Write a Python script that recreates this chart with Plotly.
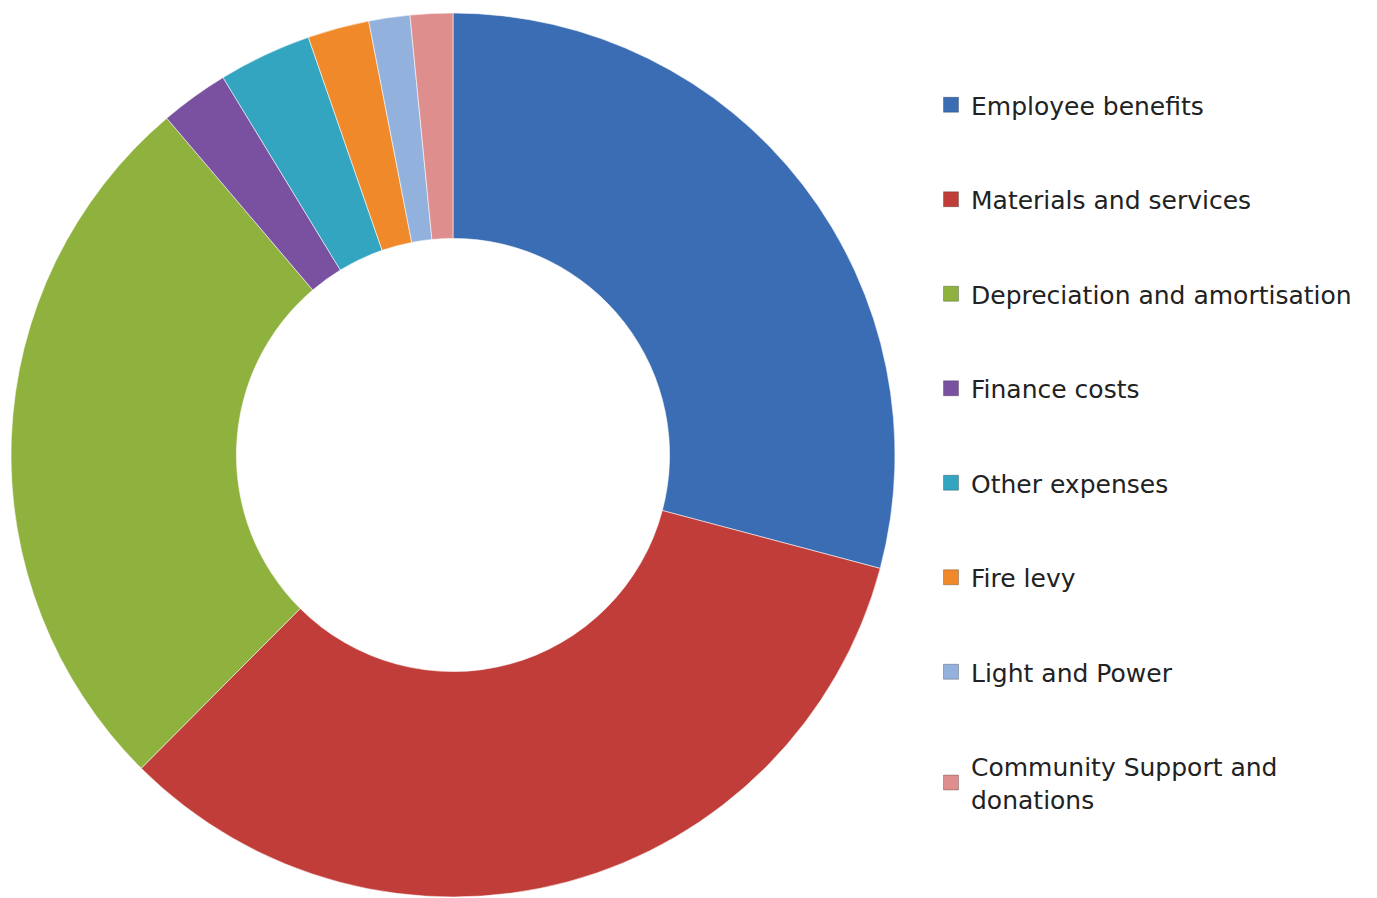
import plotly.graph_objects as go

categories = ["Employee benefits", "Materials and services", "Depreciation and amortisation",
              "Finance costs", "Other expenses", "Fire levy", "Light and Power",
              "Community Support and donations"]
legend_labels = ["Employee benefits", "Materials and services", "Depreciation and amortisation",
                 "Finance costs", "Other expenses", "Fire levy", "Light and Power",
                 "Community Support and<br>donations"]
values = [29.1, 33.3, 26.3, 2.5, 3.4, 2.25, 1.5, 1.55]
colors = ["#3b6db4", "#c13d39", "#8fb23f", "#7a50a0", "#33a5c0", "#f0892a", "#93b1dd", "#de8f8d"]

W, H = 1377, 898
cx, cy, r = 453, 455, 442

fig = go.Figure()
fig.add_trace(go.Pie(
    labels=categories, values=values, sort=False, direction="clockwise", rotation=0,
    hole=0.49, textinfo="none", hoverinfo="label+percent", showlegend=False,
    marker=dict(colors=colors, line=dict(color="rgba(255,255,255,0.55)", width=1)),
    domain=dict(x=[(cx - r) / W, (cx + r) / W], y=[(H - cy - r) / H, (H - cy + r) / H]),
))

for i, (lab, col) in enumerate(zip(legend_labels, colors)):
    fig.add_trace(go.Scatter(
        x=[None], y=[None], mode="markers", name=lab, legendgroup=f"g{i}",
        marker=dict(symbol="square", size=15, color=col,
                    line=dict(color="rgba(0,0,0,0.25)", width=1)),
        hoverinfo="skip",
    ))

fig.update_layout(
    width=W, height=H,
    margin=dict(l=0, r=0, t=0, b=0),
    paper_bgcolor="white", plot_bgcolor="white",
    xaxis=dict(visible=False), yaxis=dict(visible=False),
    font=dict(family="DejaVu Sans, sans-serif", size=25, color="#222222"),
    legend=dict(x=931 / W, y=1 - 82 / H, xanchor="left", yanchor="top",
                traceorder="grouped", tracegroupgap=59,
                font=dict(family="DejaVu Sans, sans-serif", size=25, color="#222222"),
                bgcolor="rgba(0,0,0,0)", itemclick=False, itemdoubleclick=False),
)

fig.write_html("out.html")
